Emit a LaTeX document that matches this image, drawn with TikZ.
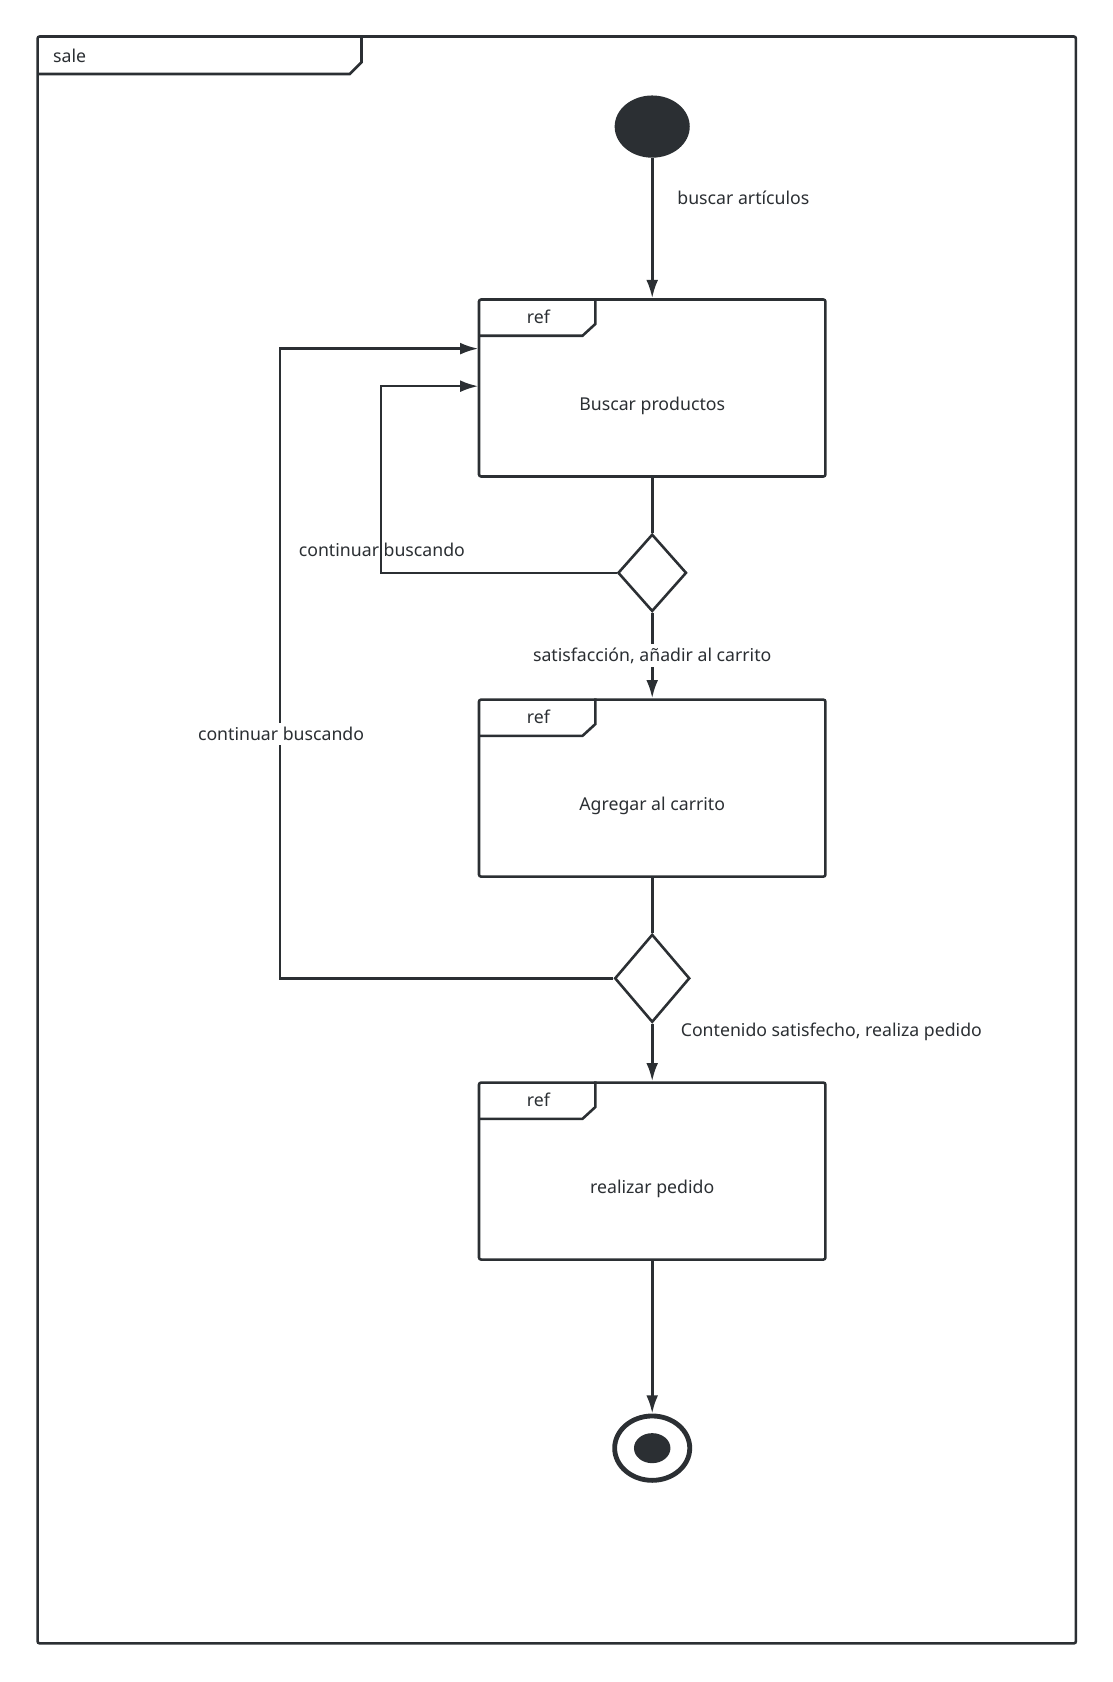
\documentclass[tikz,border=0pt]{standalone}
\usepackage{fontspec}
\setmainfont{Noto Sans}
\usetikzlibrary{arrows.meta,shapes.geometric}
\definecolor{ink}{HTML}{2B2F33}
\begin{document}
\begin{tikzpicture}[x=1pt,y=-1pt,
  every node/.style={font=\fontsize{16.5}{20}\selectfont,text=ink},
  ln/.style={draw=ink,line width=2.4pt},
  arr/.style={ln,-{Latex[length=17pt,width=11pt]}}]
\useasboundingbox (0,0) rectangle (1037,1568);
% frame
\draw[ln,rounded corners=2pt] (35,34) rectangle (1003,1532);
\draw[ln] (35,69) -- (326,69) -- (337,58) -- (337,34);
\node[anchor=west] (sale) at (46,52) {sale};
% initial
\node[ellipse,fill=ink,minimum width=70pt,minimum height=58pt,inner sep=0] (init) at (608,118) {};
% boxes
\foreach \n/\y/\t in {b1/278/Buscar productos,b2/651/Agregar al carrito,b3/1008/realizar pedido}{
  \node[draw=ink,line width=2.4pt,rounded corners=2pt,minimum width=323pt,minimum height=165pt,inner sep=0,anchor=north] (\n) at (608,\y) {};
  \draw[ln] (446,\y+35) -- (543,\y+35) -- (555,\y+24) -- (555,\y);
  \node (\n ref) at (502,\y+17) {ref};
  \node (\n t) at (608,\y+100) {\t};
}
% diamonds
\node[diamond,draw=ink,line width=2.4pt,minimum width=64pt,minimum height=72pt,inner sep=0,fill=white] (d1) at (608,534) {};
\node[diamond,draw=ink,line width=2.4pt,minimum width=70pt,minimum height=82pt,inner sep=0,fill=white] (d2) at (608,912) {};
% final
\node[ellipse,draw=ink,line width=4.5pt,minimum width=70pt,minimum height=60pt,inner sep=0] (fin) at (608,1350) {};
\node[ellipse,fill=ink,minimum width=34pt,minimum height=28pt,inner sep=0] (fini) at (fin) {};
% connectors
\draw[arr] (init) -- (b1);
\node (l1) at (693,184) {buscar artículos};
\draw[ln] (b1) -- (d1);
\draw[arr] (d1.west) -- (355,534) -- (355,360) -- (446,360);
\node (l2) at (356,513) {continuar buscando};
\draw[arr] (d1.south) -- (b2.north);
\node[fill=white,inner sep=3pt] (l3) at (608,611) {satisfacción, añadir al carrito};
\draw[ln] (b2) -- (d2);
\draw[arr] (d2.west) -- (261,912) -- (261,325) -- (446,325);
\node[fill=white,inner sep=4pt] (l4) at (262,684) {continuar buscando};
\draw[arr] (d2.south) -- (b3.north);
\node (l5) at (775,962) {Contenido satisfecho, realiza pedido};
\draw[arr] (b3) -- (fin);
\end{tikzpicture}
\end{document}
